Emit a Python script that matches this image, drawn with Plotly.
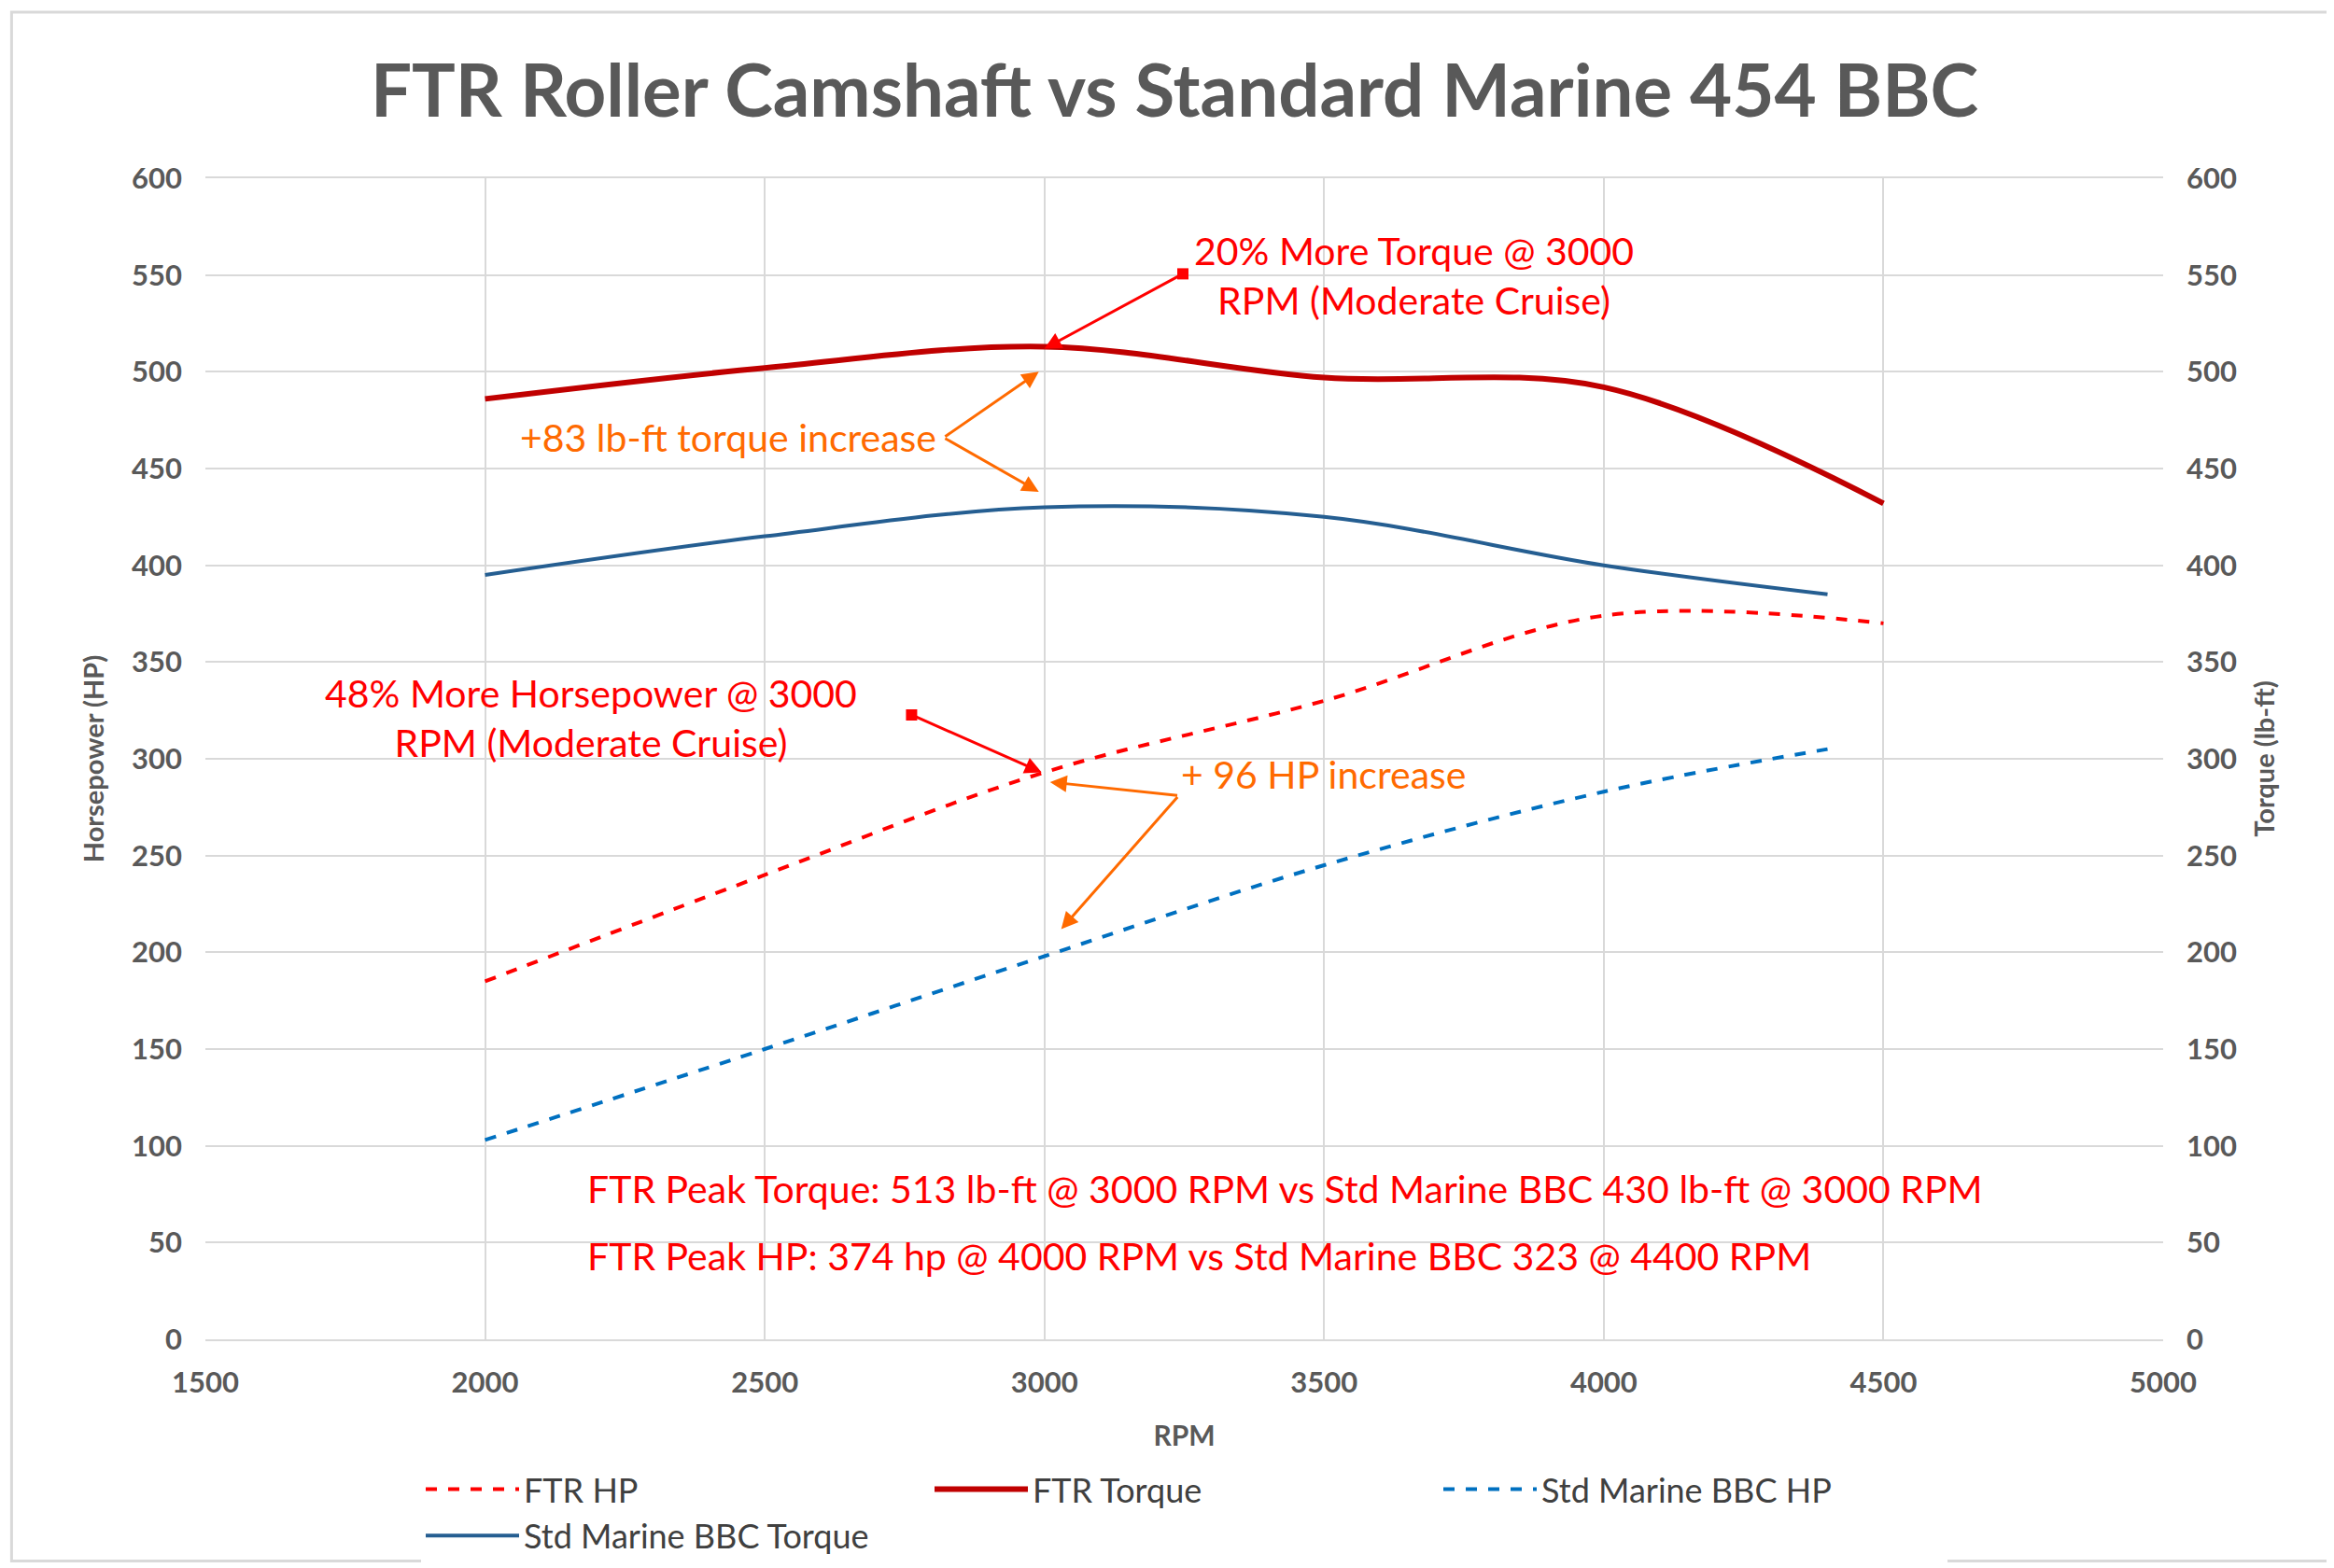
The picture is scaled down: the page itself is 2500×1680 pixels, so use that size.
import plotly.graph_objects as go

rpm_ftr = [2000, 2500, 3000, 3500, 4000, 4500]
ftr_hp = [185, 240, 293, 330, 374, 370]
ftr_torque = [486, 502, 513, 497, 492, 432]

rpm_std = [2000, 2500, 3000, 3500, 4000, 4400]
std_hp = [103, 150, 198, 245, 283, 305]
std_torque = [395, 415, 430, 425, 400, 385]

RED = '#FF0000'
DARKRED = '#C00000'
BLUE = '#0070C0'
NAVY = '#255E91'
ORANGE = '#FF6A00'
GREY = '#595959'
FONT = 'Lato'

fig = go.Figure()
fig.add_trace(go.Scatter(x=rpm_ftr, y=ftr_hp, name='FTR HP', mode='lines',
                         line=dict(color=RED, width=4, dash='dash', shape='spline')))
fig.add_trace(go.Scatter(x=rpm_ftr, y=ftr_torque, name='FTR Torque', mode='lines',
                         line=dict(color=DARKRED, width=6, shape='spline')))
fig.add_trace(go.Scatter(x=rpm_std, y=std_hp, name='Std Marine BBC HP', mode='lines',
                         line=dict(color=BLUE, width=4, dash='dash', shape='spline')))
fig.add_trace(go.Scatter(x=rpm_std, y=std_torque, name='Std Marine BBC Torque', mode='lines',
                         line=dict(color=NAVY, width=4, shape='spline')))
# invisible trace to show the right axis
fig.add_trace(go.Scatter(x=[2000], y=[0], yaxis='y2', showlegend=False, mode='markers',
                         marker=dict(opacity=0), hoverinfo='skip'))


def arrow(x, y, ax, ay, color, text='', **kw):
    fig.add_annotation(x=x, y=y, ax=ax, ay=ay, xref='x', yref='y', axref='x', ayref='y',
                       text=text, showarrow=True, arrowhead=2, arrowsize=1.2, arrowwidth=3,
                       arrowcolor=color, **kw)


arrow(3000, 512, 3250, 551, RED, startarrowhead=7, arrowside='end+start', startarrowsize=1)
arrow(2990, 500, 2820, 466, ORANGE)
arrow(2990, 438, 2820, 466, ORANGE)
arrow(2995, 293, 2760, 323, RED, startarrowhead=7, arrowside='end+start', startarrowsize=1)
arrow(3010, 288, 3240, 281, ORANGE)
arrow(3030, 212, 3240, 281, ORANGE)


def label(x, y, text, color, align='left', anchor='left', size=41):
    fig.add_annotation(x=x, y=y, xref='x', yref='y', text=text, showarrow=False,
                       align=align, xanchor=anchor, font=dict(family=FONT, size=size, color=color))


label(3265, 550, '20% More Torque @ 3000<br>RPM (Moderate Cruise)', RED, align='center')
label(2810, 466, '+83 lb-ft torque increase', ORANGE, anchor='right')
label(2190, 321, '48% More Horsepower @ 3000<br>RPM (Moderate Cruise)', RED, align='center', anchor='center')
label(3240, 292, '+ 96 HP increase', ORANGE)
label(2180, 78, 'FTR Peak Torque: 513 lb-ft @ 3000 RPM vs Std Marine BBC 430 lb-ft @ 3000 RPM', RED)
label(2180, 43, 'FTR Peak HP: 374 hp @ 4000 RPM vs Std Marine BBC 323 @ 4400 RPM', RED)

axis_font = dict(family=FONT, size=30, color=GREY)
fig.update_layout(
    width=2500, height=1680, plot_bgcolor='white', paper_bgcolor='white',
    margin=dict(l=212, r=191, t=183, b=243),
    title=dict(text='<b>FTR Roller Camshaft vs Standard Marine 454 BBC</b>', x=0.5, y=0.963,
               xanchor='center', font=dict(family=FONT, size=78, color=GREY)),
    xaxis=dict(range=[1500, 5000], dtick=500, showgrid=True, gridcolor='#D9D9D9', gridwidth=2,
               showline=True, linecolor='#D9D9D9', linewidth=2, mirror=True, ticklabelstandoff=18,
               tickfont=dict(family=FONT, size=31, color=GREY), tickprefix='<b>', ticksuffix='</b>',
               title=dict(text='<b>RPM</b>', font=axis_font, standoff=30)),
    yaxis=dict(range=[0, 600], dtick=50, showgrid=True, gridcolor='#D9D9D9', gridwidth=2,
               zeroline=False, tickprefix='<b>', ticksuffix='</b>', ticklabelstandoff=24,
               tickfont=dict(family=FONT, size=31, color=GREY),
               title=dict(text='<b>Horsepower (HP)</b>', font=dict(family=FONT, size=29, color=GREY),
                          standoff=20)),
    yaxis2=dict(range=[0, 600], dtick=50, overlaying='y', side='right', showgrid=False,
                zeroline=False, tickprefix='<b>', ticksuffix='</b>', ticklabelstandoff=24,
                tickfont=dict(family=FONT, size=31, color=GREY),
                title=dict(text='<b>Torque (lb-ft)</b>', font=dict(family=FONT, size=29, color=GREY),
                           standoff=20)),
    legend=dict(orientation='h', x=0.5, xanchor='center', y=-0.105, yanchor='top',
                font=dict(family=FONT, size=36, color='#404040'), itemwidth=100,
                entrywidth=430, entrywidthmode='pixels'),
    shapes=[dict(type='rect', xref='paper', yref='paper', x0=-0.099, x1=1.088, y0=-0.191, y1=1.143,
                 line=dict(color='#D9D9D9', width=3))],
)

fig.write_html("out.html")
